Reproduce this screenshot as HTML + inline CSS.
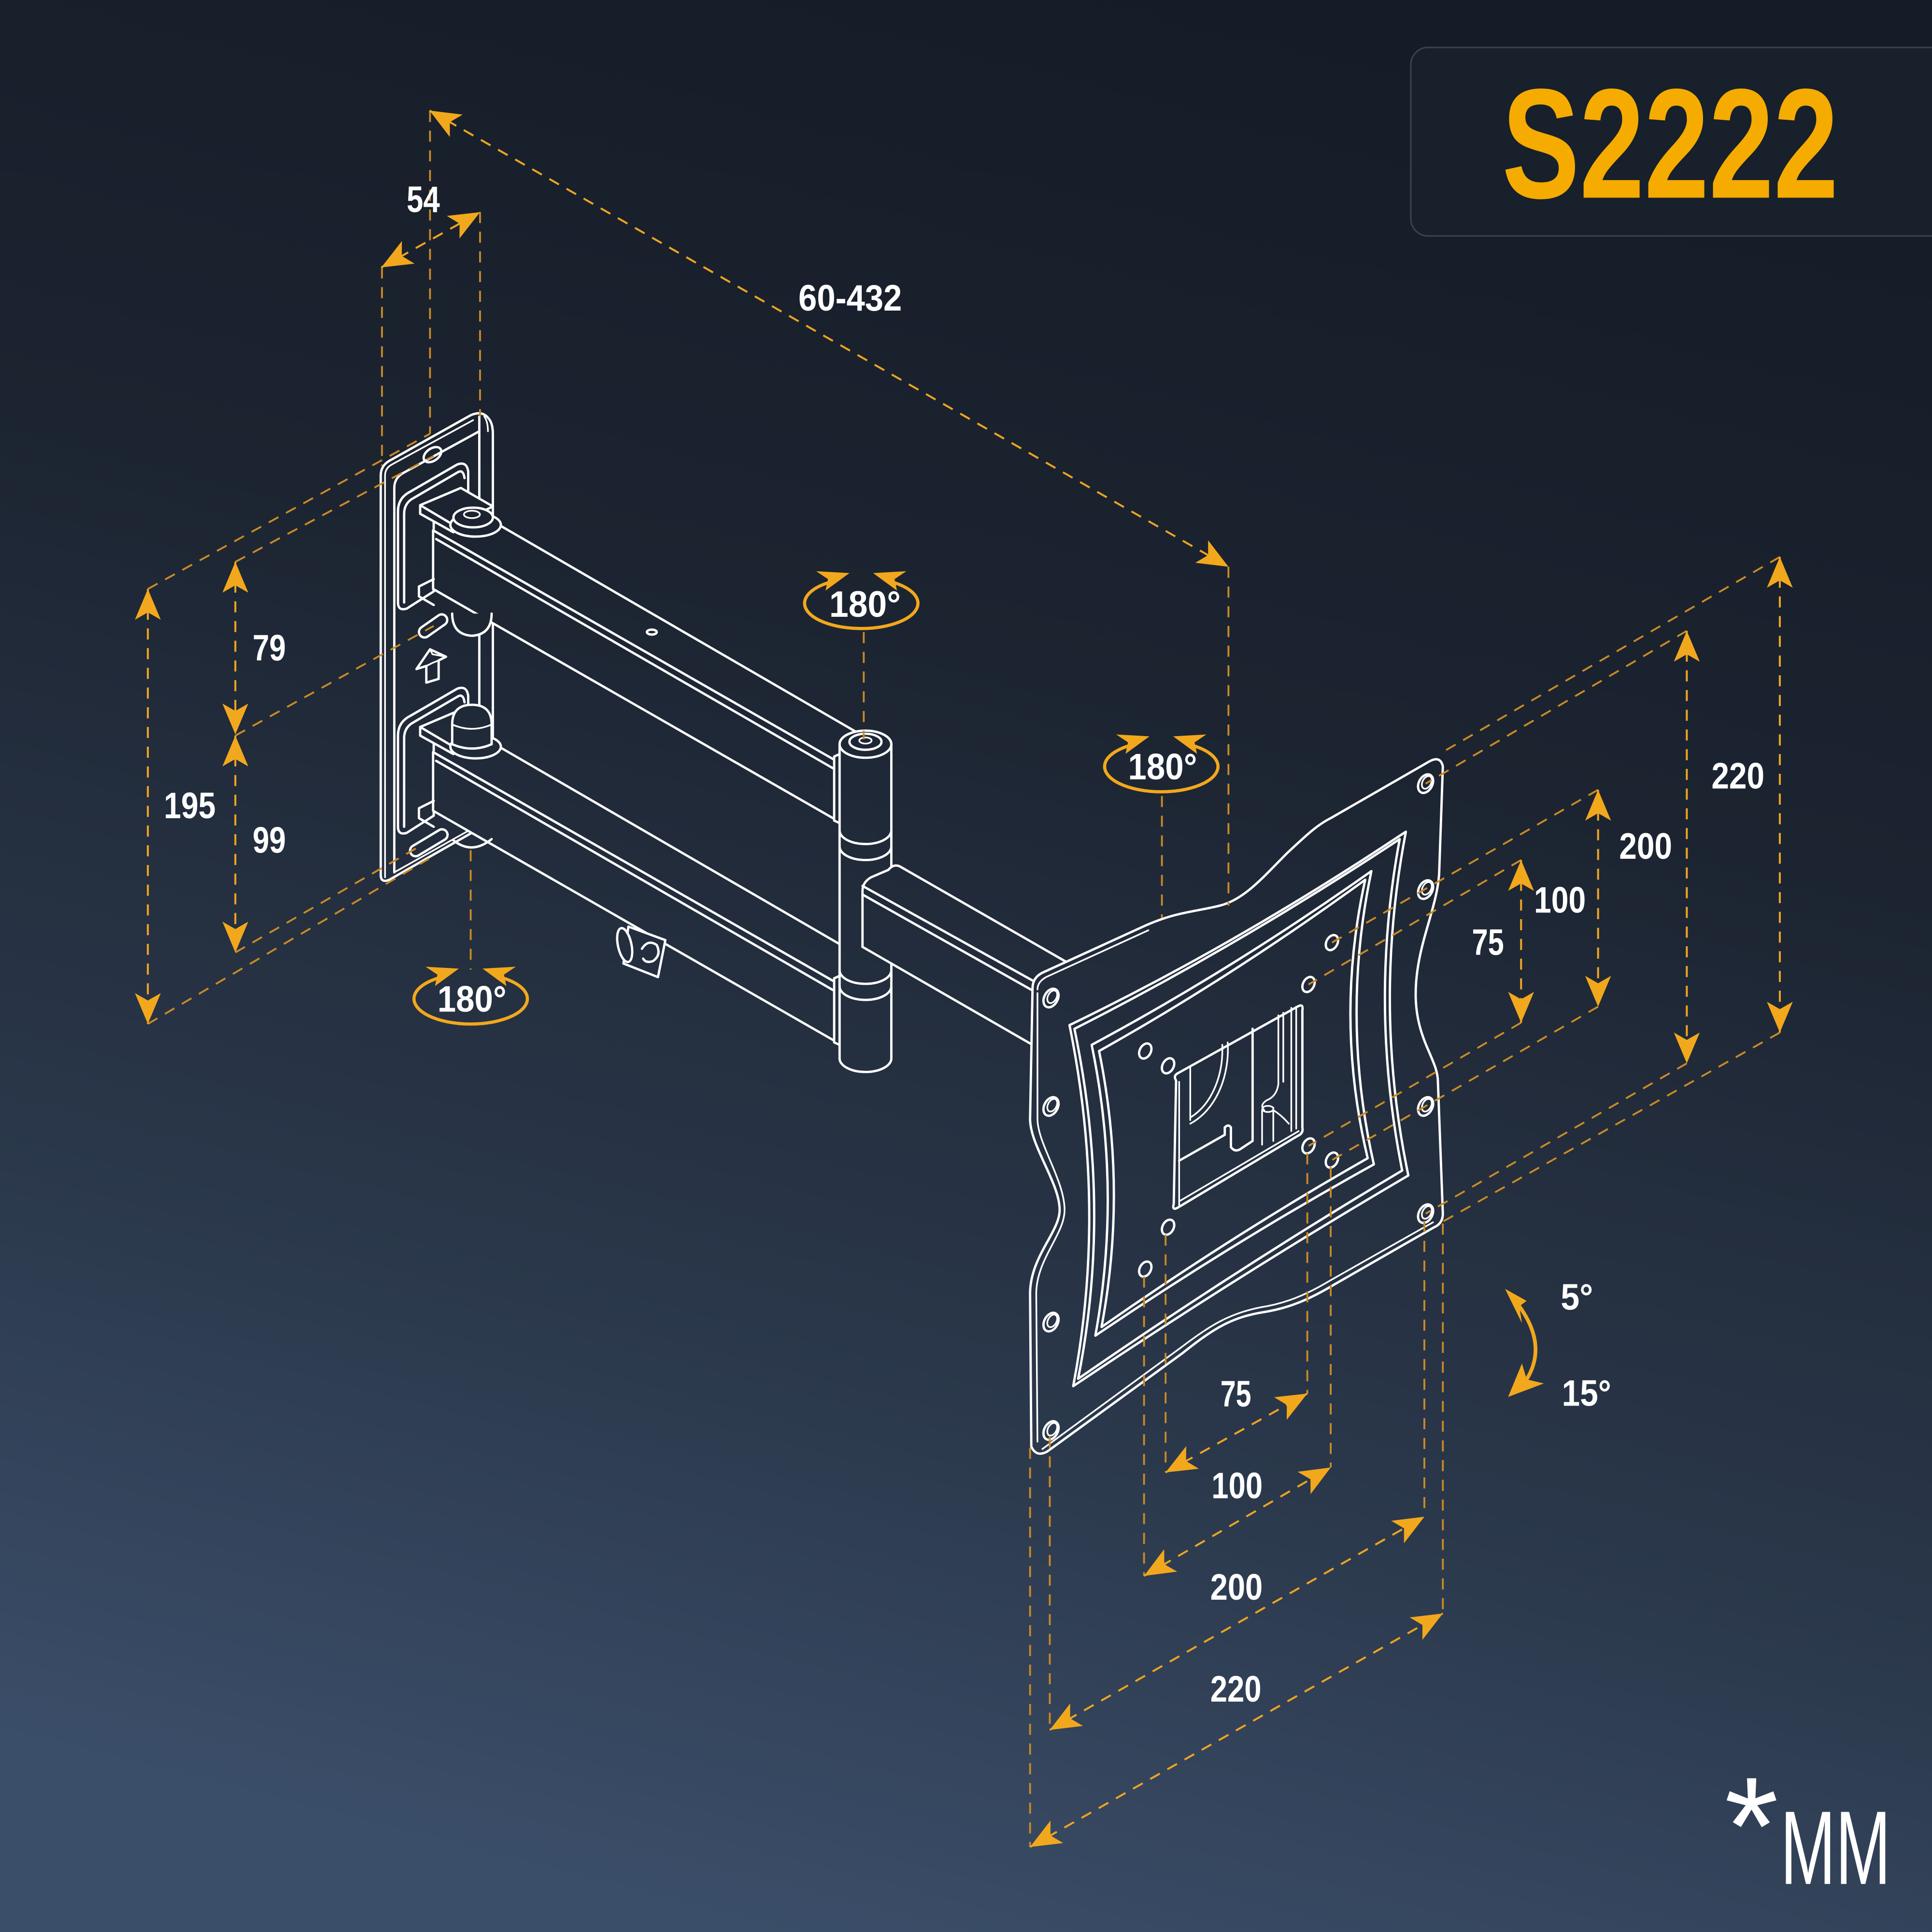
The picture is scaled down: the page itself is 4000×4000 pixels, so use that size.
<!DOCTYPE html>
<html><head><meta charset="utf-8">
<style>
html,body{margin:0;padding:0;background:#1e2835;}
svg{display:block}
.w{fill:none;stroke:#fff;stroke-width:1.9;stroke-linejoin:round;stroke-linecap:round}
.wf{fill:url(#bg);stroke:#fff;stroke-width:1.9;stroke-linejoin:round;stroke-linecap:round}
.wt{fill:none;stroke:#fff;stroke-width:1.35;stroke-linejoin:round;stroke-linecap:round}
.occ{fill:url(#bg);stroke:none}
.ext{fill:none;stroke:#c98a26;stroke-width:1.5;stroke-dasharray:9 7}
.dim{fill:none;stroke:#eca423;stroke-width:1.6;stroke-dasharray:9 7;marker-start:url(#ah);marker-end:url(#ah)}
.lbl{font-family:"Liberation Sans",Arial,sans-serif;font-weight:bold;fill:#fff;font-size:30px;text-anchor:middle}
.og{fill:#f2a81d}
.ogs{fill:none;stroke:#f2a81d;stroke-width:2.6}
</style></head><body>
<svg width="4000" height="4000" viewBox="0 0 1568 1568" xmlns="http://www.w3.org/2000/svg">
<defs>
<linearGradient id="bg" gradientUnits="userSpaceOnUse" x1="1000" y1="0" x2="600" y2="1568">
 <stop offset="0" stop-color="#151c27"/>
 <stop offset="0.35" stop-color="#1c2431"/>
 <stop offset="0.7" stop-color="#2a374a"/>
 <stop offset="1" stop-color="#3b4e69"/>
</linearGradient>
<marker id="ah" viewBox="-26 -11 28 22" refX="0" refY="0" markerWidth="28" markerHeight="22" markerUnits="userSpaceOnUse" orient="auto-start-reverse" overflow="visible">
<path d="M0,0 L-25,-10.5 L-19,0 L-25,10.5 Z" fill="#f2a81d"/>
</marker>
</defs>

<rect x="0" y="0" width="1568" height="1568" fill="url(#bg)"/>

<!-- Title box -->
<rect x="1145" y="38.5" width="470" height="153" rx="14" fill="#17202b" stroke="#3a434f" stroke-width="1.2"/>
<text x="1219" y="160.5" font-family="'Liberation Sans',Arial,sans-serif" font-weight="bold" font-size="127" fill="#F5AB00" textLength="273" lengthAdjust="spacingAndGlyphs">S2222</text>

<!-- ===== Wall plate ===== -->
<g>
 <path class="wf" d="M309,710 L309,386 Q309,378 316,374 L382,337 Q391,333 396,339 Q400,343 400,352 L400,662 Q400,667 395,669 L316,714 Q309,717 309,710 Z"/>
 <path class="wt" d="M312.5,712 L312.5,386 Q312.5,380 318,377 L384,341"/>
 <path class="w" d="M320,708 L320,396 Q320,388 327,384 L389,350"/>
 <path class="w" d="M389,338 L389,665"/>
 <path class="wt" d="M393,338 Q396,342 396,350"/>
 <path class="wt" d="M320,708 L393,667"/>
 <ellipse class="w" cx="351" cy="369" rx="8" ry="5" transform="rotate(-35 351 369)"/>
 <path class="wf" d="M323,489 L323,415 Q323,404 333,399 L371,377 Q379,374 380,383 L380,400 L352,420 L352,480 L330,494 Q323,496 323,489 Z"/>
 <path class="w" d="M328,489 L328,417 Q328,408 336,404 L372,383 Q376,381 377,388"/>
 <path class="wf" d="M323,671 L323,597 Q323,586 333,581 L371,559 Q379,556 380,565 L380,582 L352,602 L352,662 L330,676 Q323,678 323,671 Z"/>
 <path class="w" d="M328,671 L328,599 Q328,590 336,586 L372,565 Q376,563 377,570"/>
 <rect class="w" x="338.5" y="503.5" width="26" height="9" rx="4.5" transform="rotate(-35 351.5 508)"/>
 <path class="w" d="M338,543 L349,527 L362,533 L356,536 L356,551 L346,554 L346,540.5 Z"/>
 <path class="wt" d="M349,527 L351,531 L362,533 M346,540.5 L351,538 L356,536"/>
 <rect class="w" x="331" y="679.5" width="34" height="9" rx="4.5" transform="rotate(-31 348 684)"/>
</g>

<!-- ===== Upper arm ===== -->
<g>
 <path class="occ" d="M351.5,478 L351.5,430.4 L382.5,412.5 L700,597 L700,680 L676,664.5 Z"/>
 <path class="w" d="M351.5,430.4 L676,616 M354,437.5 L676,623.5 M351.5,478 L676,664 M351.5,430.4 L351.5,478 M405,426 L700,597"/>
 <ellipse class="w" cx="529" cy="513" rx="4" ry="2"/>
 <path class="wf" d="M341,410 L374,396 L400,411 L368,427 L368,432 L341,417 Z"/>
 <path class="w" d="M341,410 L368,426"/>
 <ellipse class="wf" cx="386" cy="426" rx="20.5" ry="9.5"/>
 <ellipse class="wf" cx="384" cy="420" rx="16" ry="8"/>
 <ellipse class="wt" cx="383" cy="417.5" rx="6.5" ry="3"/>
 <path class="wf" d="M367,498 Q367,515 383,516 Q399,515 399,498"/>
 <path class="w" d="M340,476 L352,470 M340,476 L340,484 L352,491"/>
</g>

<!-- ===== Lower arm ===== -->
<g>
 <path class="occ" d="M351.5,658 L351.5,610.4 L382.5,592.5 L700,777 L700,860 L676,844.5 Z"/>
 <path class="w" d="M351.5,610.4 L676,796 M354,617.5 L676,803.5 M351.5,658 L676,844 M351.5,610.4 L351.5,658 M405,606 L700,777"/>
 <path class="wf" d="M341,590 L374,576 L400,591 L368,607 L368,612 L341,597 Z"/>
 <path class="w" d="M341,590 L368,606"/>
 <ellipse class="wf" cx="386" cy="606" rx="20.5" ry="9.5"/>
 <path class="wf" d="M367,604 L367,588 Q367,572 383,572 Q399,572 399,588 L399,604 Q383,611 367,604 Z"/>
 <path class="wt" d="M367,588 Q383,595 399,588"/>
 <path class="w" d="M368,682 Q383,694 399,681"/>
 <path class="w" d="M340,656 L352,650 M340,656 L340,664 L352,671"/>
 <!-- cable clip -->
 <path class="wf" d="M540,763 L510,752 L506,782 L534,793 Z"/>
 <ellipse class="wf" cx="507" cy="767" rx="5.5" ry="14" transform="rotate(-12 507 767)"/>
 <path class="w" d="M521,770 Q526,762 533,767 Q537,775 530,780 Q524,782 522,778"/>
</g>

<!-- ===== Hinge cylinder ===== -->
<g>
 <path class="w" d="M681.4,612 L677,614 L677,666 L681.4,668 M681.4,792 L677,794 L677,846 L681.4,848"/>
 <path class="wf" d="M681.4,604 L681.4,859 A21,11 0 0 0 723.4,859 L723.4,604 A21,11 0 0 0 681.4,604 Z"/>
 <ellipse class="w" cx="702.4" cy="604" rx="21" ry="11"/>
 <ellipse class="w" cx="702.4" cy="602" rx="13" ry="6.5"/>
 <ellipse class="wt" cx="702.4" cy="601" rx="5" ry="2.5"/>
 <path class="w" d="M681.4,674 A21,11 0 0 0 723.4,674 M681.4,687 A21,11 0 0 0 723.4,687 M681.4,787.5 A21,11 0 0 0 723.4,787.5 M681.4,800.5 A21,11 0 0 0 723.4,800.5"/>
</g>

<!-- ===== Tube to VESA plate ===== -->
<g>
 <path class="occ" d="M700,768.5 L700,723 Q700,716 707,712 L723,704 L729.8,702 L866,781 L838,849 Z"/>
 <path class="w" d="M700,768.5 L700,723 Q700,716 707,712 L721,706 Q725,701 730,703 L866,781"/>
 <path class="w" d="M700,719 L842,798 M700,726 L840,805 M700,768.5 L838,848"/>
</g>

<!-- ===== VESA plate ===== -->
<g>
 <path class="wf" d="M838,802 Q838,793 847,789 L930,751 C955,740 970,740 990,735 C1010,730 1025,712 1045,692 C1058,680 1068,670 1080,664 L1160,618 Q1169,613 1171,622 L1168,709 C1166,740 1148,770 1149,810 C1150,845 1167,860 1167,878 L1171,985 Q1171,993 1164,996 L1082,1043 C1062,1055 1045,1062 1025,1065 C1000,1069 985,1078 960,1098 L850,1178 Q841,1183 837,1174 L836,1050 C836,1020 860,1000 860,982 C860,960 836,930 836,908 Z"/>
 <path class="wt" d="M842,803 Q842,797 849,793 L932,755 M842,806 L842,908 C842,928 864,958 864,982 C864,1002 841,1022 841,1050 L842,1170 M846,1176 L958,1094 C983,1075 998,1066 1023,1061 C1043,1058 1060,1051 1080,1039 L1163,992"/>
 <path class="w" d="M868,832 Q1003.5,766.5 1141,675 Q1114,815.5 1143,954 Q1009,1032.5 871,1125 Q898.5,981.5 868,832 Z"/>
 <path class="w" d="M872,835 Q1004,768 1136,681 Q1111,814.5 1138,950 Q1007.5,1027.5 875,1119 Q902.5,981 872,835 Z"/>
 <path class="w" d="M886,848 Q1000.5,786.5 1113,707 Q1088,826 1115,945 Q1002,1007.5 889,1084 Q910.5,966 886,848 Z"/>
 <path class="w" d="M892,853 Q1000,792.5 1108,714 Q1083,827 1110,940 Q1002,1001.5 894,1077 Q915,965 892,853 Z"/>
 <g class="w">
  <ellipse cx="1157" cy="636" rx="5.5" ry="8" transform="rotate(28 1157 636)"/>
  <ellipse cx="1157" cy="722" rx="5.5" ry="8" transform="rotate(28 1157 722)"/>
  <ellipse cx="1157" cy="898" rx="5.5" ry="8" transform="rotate(28 1157 898)"/>
  <ellipse cx="1157" cy="985" rx="5.5" ry="8" transform="rotate(28 1157 985)"/>
  <ellipse cx="853" cy="810" rx="5.5" ry="8" transform="rotate(28 853 810)"/>
  <ellipse cx="853" cy="898" rx="5.5" ry="8" transform="rotate(28 853 898)"/>
  <ellipse cx="853" cy="1073" rx="5.5" ry="8" transform="rotate(28 853 1073)"/>
  <ellipse cx="853" cy="1161" rx="5.5" ry="8" transform="rotate(28 853 1161)"/>
 </g>
 <g class="wt">
  <ellipse cx="1158" cy="635" rx="3.5" ry="5.5" transform="rotate(28 1158 635)"/>
  <ellipse cx="1158" cy="721" rx="3.5" ry="5.5" transform="rotate(28 1158 721)"/>
  <ellipse cx="1158" cy="897" rx="3.5" ry="5.5" transform="rotate(28 1158 897)"/>
  <ellipse cx="1158" cy="984" rx="3.5" ry="5.5" transform="rotate(28 1158 984)"/>
  <ellipse cx="854" cy="809" rx="3.5" ry="5.5" transform="rotate(28 854 809)"/>
  <ellipse cx="854" cy="897" rx="3.5" ry="5.5" transform="rotate(28 854 897)"/>
  <ellipse cx="854" cy="1072" rx="3.5" ry="5.5" transform="rotate(28 854 1072)"/>
  <ellipse cx="854" cy="1160" rx="3.5" ry="5.5" transform="rotate(28 854 1160)"/>
 </g>
 <g class="w">
  <ellipse cx="1081" cy="765" rx="4.5" ry="6.5" transform="rotate(28 1081 765)"/>
  <ellipse cx="1062" cy="799" rx="4.5" ry="6.5" transform="rotate(28 1062 799)"/>
  <ellipse cx="929.5" cy="853" rx="4.5" ry="6.5" transform="rotate(28 929.5 853)"/>
  <ellipse cx="948" cy="865" rx="4.5" ry="6.5" transform="rotate(28 948 865)"/>
  <ellipse cx="1062" cy="930" rx="4.5" ry="6.5" transform="rotate(28 1062 930)"/>
  <ellipse cx="1081" cy="941.5" rx="4.5" ry="6.5" transform="rotate(28 1081 941.5)"/>
  <ellipse cx="948" cy="996" rx="4.5" ry="6.5" transform="rotate(28 948 996)"/>
  <ellipse cx="929.5" cy="1030" rx="4.5" ry="6.5" transform="rotate(28 929.5 1030)"/>
 </g>
 <path class="w" d="M954.5,877 Q952,873 956,871 L1053,817 Q1058,814 1057,820 L1057,915 Q1058,920 1053,922 L956,980 Q951,983 952.6,977 Z"/>
 <path class="wt" d="M957,975 L1054,918 M957,878 L957,978"/>
 <path class="w" d="M957,942 L994,921 L994,915 Q997,912 999,915 L999,931 Q1002,935 1006,933 L1016.6,926 M1016.6,835 L1016.6,926"/>
 <path class="wt" d="M966,866 L966,909 M996.4,846 C998,872 988,900 966,912 M992,848 C993,872 984,896 966,907"/>
 <path class="wt" d="M1037.5,824 L1037.5,880 M1041.5,822 L1041.5,878 M1048,818 L1048,918 M1052,817 L1052,916"/>
 <path class="wt" d="M1037.5,880 Q1036,890 1028,893 Q1022,897 1026,901 M1024.3,901 L1024.3,929 M1033.4,899 L1033.4,926 M1033.4,901 Q1040,905 1046,912"/>
 <ellipse class="wt" cx="1029" cy="900" rx="4.5" ry="2.5"/>
</g>

<!-- ===== Extension lines ===== -->
<g class="ext">
 <path d="M310,217 L310,378 M349,90 L349,352 M389.6,172 L389.6,338"/>
 <path d="M120,478 L349,352 M191,456 L352,370 M191,597 L352,508 M191,773 L342,686 M120,831 L348,697"/>
 <path d="M382,690 L382,787 M701,513 L701,600 M943,646 L943,745 M997,460 L997,735"/>
 <path d="M1234.5,698 L1062,799 M1234.5,830 L1062,930 M1297,641 L1081,765 M1297,817 L1081,941.5 M1369,512 L1157,636 M1369,863 L1157,985 M1444.5,452 L1168,612 M1444.5,838 L1170,992"/>
 <path d="M836,1175 L836,1499 M852,1166 L852,1404 M928.5,1036 L928.5,1279 M946,1002 L946,1195 M1061,936 L1061,1131 M1080,947 L1080,1191 M1156,991 L1156,1231 M1171,993 L1171,1309"/>
</g>

<!-- ===== Dimension lines ===== -->
<g>
 <path class="dim" d="M309.5,217 L389.6,172.2"/>
 <path class="dim" d="M348.6,89.7 L997,460"/>
 <path class="dim" d="M120,478 L120,831"/>
 <path class="dim" d="M191,456 L191,596"/>
 <path class="dim" d="M191,597 L191,773"/>
 <path class="dim" d="M1234.5,698 L1234.5,830"/>
 <path class="dim" d="M1297,641 L1297,817"/>
 <path class="dim" d="M1369,512 L1369,863"/>
 <path class="dim" d="M1444.5,452 L1444.5,838"/>
 <path class="dim" d="M946,1195 L1061,1131"/>
 <path class="dim" d="M928.5,1279 L1080,1191"/>
 <path class="dim" d="M852,1404 L1156,1231"/>
 <path class="dim" d="M836,1499 L1171,1309.5"/>
</g>

<!-- ===== Labels ===== -->
<g class="lbl">
 <text x="343.5" y="172" textLength="27" lengthAdjust="spacingAndGlyphs">54</text>
 <text x="690" y="252" textLength="84" lengthAdjust="spacingAndGlyphs">60-432</text>
 <text x="218.5" y="536" textLength="27" lengthAdjust="spacingAndGlyphs">79</text>
 <text x="154" y="664" textLength="42" lengthAdjust="spacingAndGlyphs">195</text>
 <text x="218.5" y="692" textLength="27" lengthAdjust="spacingAndGlyphs">99</text>
 <text x="1410.5" y="640" textLength="43" lengthAdjust="spacingAndGlyphs">220</text>
 <text x="1335.6" y="697" textLength="43" lengthAdjust="spacingAndGlyphs">200</text>
 <text x="1266" y="740.6" textLength="42" lengthAdjust="spacingAndGlyphs">100</text>
 <text x="1207.6" y="775" textLength="26" lengthAdjust="spacingAndGlyphs">75</text>
 <text x="1003" y="1141.6" textLength="25" lengthAdjust="spacingAndGlyphs">75</text>
 <text x="1004" y="1216" textLength="41.5" lengthAdjust="spacingAndGlyphs">100</text>
 <text x="1003.5" y="1298.4" textLength="42.6" lengthAdjust="spacingAndGlyphs">200</text>
 <text x="1003" y="1381" textLength="41.5" lengthAdjust="spacingAndGlyphs">220</text>
 <text x="1279.8" y="1063" textLength="26.3" lengthAdjust="spacingAndGlyphs">5°</text>
 <text x="1287.6" y="1141" textLength="40" lengthAdjust="spacingAndGlyphs">15°</text>
</g>

<!-- ===== Rotation symbols ===== -->
<g transform="translate(699,490)">
 <path class="ogs" d="M-27,-17 A46,20.5 0 1 0 27,-17"/>
 <path class="og" d="M-9.6,-24.9 L-36.6,-26.4 L-27,-20 L-29,-10.7 Z"/>
 <path class="og" d="M9.6,-24.9 L36.6,-26.4 L27,-20 L29,-10.7 Z"/>
 <text class="lbl" x="3" y="10.5" font-size="31" textLength="58" lengthAdjust="spacingAndGlyphs">180°</text>
</g>
<g transform="translate(942.5,622.5)">
 <path class="ogs" d="M-27,-17 A46,20.5 0 1 0 27,-17"/>
 <path class="og" d="M-9.6,-24.9 L-36.6,-26.4 L-27,-20 L-29,-10.7 Z"/>
 <path class="og" d="M9.6,-24.9 L36.6,-26.4 L27,-20 L29,-10.7 Z"/>
 <text class="lbl" x="1" y="10" font-size="31" textLength="56" lengthAdjust="spacingAndGlyphs">180°</text>
</g>
<g transform="translate(382,811)">
 <path class="ogs" d="M-27,-17 A46,20.5 0 1 0 27,-17"/>
 <path class="og" d="M-9.6,-24.9 L-36.6,-26.4 L-27,-20 L-29,-10.7 Z"/>
 <path class="og" d="M9.6,-24.9 L36.6,-26.4 L27,-20 L29,-10.7 Z"/>
 <text class="lbl" x="1" y="10" font-size="31" textLength="56" lengthAdjust="spacingAndGlyphs">180°</text>
</g>

<!-- ===== Tilt arrow ===== -->
<path d="M1233,1060 Q1256,1092 1239,1119.5" fill="none" stroke="#f2a81d" stroke-width="3"/>
<path class="og" d="M1221.5,1046 L1239,1055.8 L1233.1,1060.2 L1235.2,1073.9 Z"/>
<path class="og" d="M1224,1133.7 L1253,1122.8 L1239.1,1119.5 L1235.2,1106.6 Z"/>

<!-- ===== *MM ===== -->
<text x="1421.5" y="1521" font-family="'Liberation Sans',Arial,sans-serif" font-size="113" fill="#fff" text-anchor="middle">*</text>
<text x="1445" y="1529" font-family="'Liberation Sans',Arial,sans-serif" font-size="85" fill="#fff" textLength="89.5" lengthAdjust="spacingAndGlyphs">MM</text>
</svg>
</body></html>
